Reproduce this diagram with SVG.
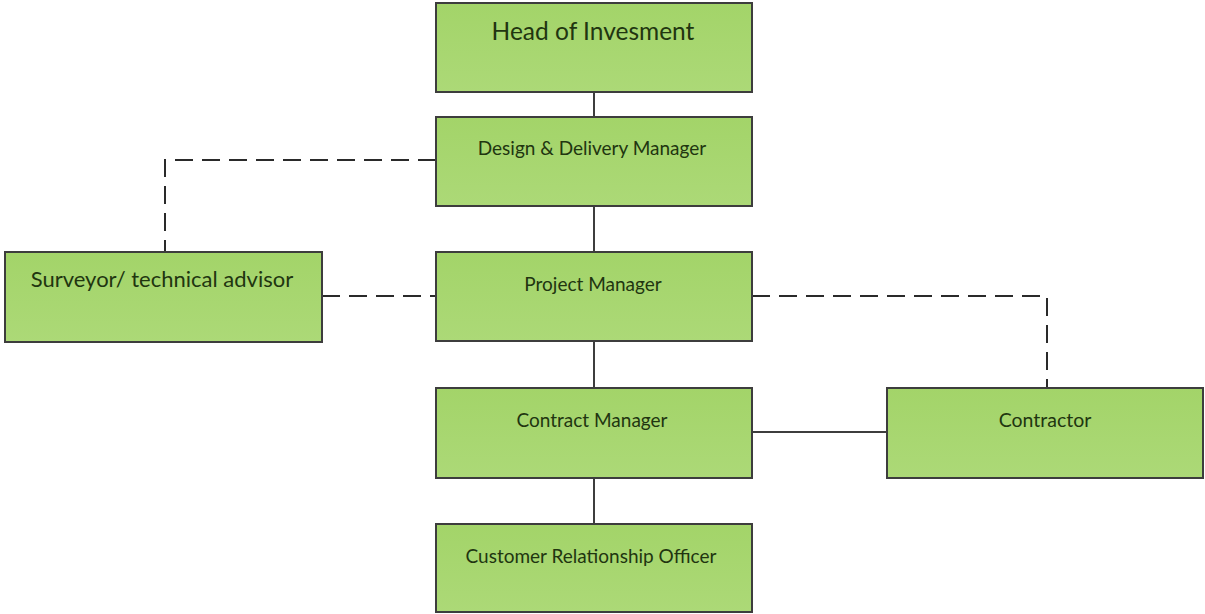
<svg xmlns="http://www.w3.org/2000/svg" width="1205" height="614" viewBox="0 0 1205 614">
<defs>
<linearGradient id="g" x1="0" y1="0" x2="0" y2="1">
<stop offset="0" stop-color="#a3d469"/>
<stop offset="1" stop-color="#acd977"/>
</linearGradient>
<style>
.box{fill:url(#g);stroke:#3d3d3d;stroke-width:2}
.t{font-family:Lato,"Open Sans","Liberation Sans",sans-serif;fill:#213510;text-anchor:middle;font-size:19px}
.s{stroke:#3d3d3d;stroke-width:2;fill:none}
.d{stroke:#2a2a2a;stroke-width:2;fill:none;stroke-dasharray:18 9}
</style>
</defs>
<rect width="1205" height="614" fill="#ffffff"/>
<g id="connectors">
<line class="s" x1="594" y1="92" x2="594" y2="117"/>
<line class="s" x1="594" y1="206" x2="594" y2="252"/>
<line class="s" x1="594" y1="341" x2="594" y2="388"/>
<line class="s" x1="594" y1="478" x2="594" y2="524"/>
<line class="s" x1="752" y1="432" x2="887" y2="432"/>
<path class="d" d="M436 160 H165 V252"/>
<path class="d" d="M322 296 H436"/>
<path class="d" d="M752 296 H1047 V388"/>
</g>
<g id="head">
<rect class="box" x="436" y="3" width="316" height="89"/>
<text class="t" x="593" y="40" style="font-size:24.5px">Head of Invesment</text>
</g>
<g id="design">
<rect class="box" x="436" y="117" width="316" height="89"/>
<text class="t" x="592" y="155">Design &amp; Delivery Manager</text>
</g>
<g id="surveyor">
<rect class="box" x="5" y="252" width="317" height="90"/>
<text class="t" x="162" y="287" style="font-size:22px">Surveyor/ technical advisor</text>
</g>
<g id="pm">
<rect class="box" x="436" y="252" width="316" height="89"/>
<text class="t" x="593" y="291">Project Manager</text>
</g>
<g id="contract">
<rect class="box" x="436" y="388" width="316" height="90"/>
<text class="t" x="592" y="427">Contract Manager</text>
</g>
<g id="contractor">
<rect class="box" x="887" y="388" width="316" height="90"/>
<text class="t" x="1045" y="427" style="font-size:19.5px">Contractor</text>
</g>
<g id="cro">
<rect class="box" x="436" y="524" width="316" height="88"/>
<text class="t" x="591" y="563">Customer Relationship Officer</text>
</g>
</svg>
